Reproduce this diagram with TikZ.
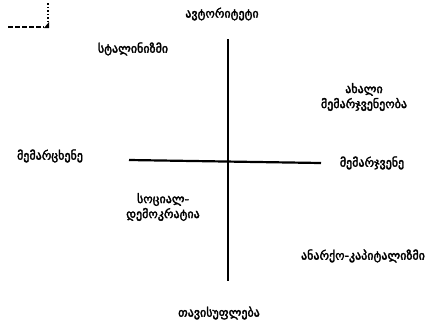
\documentclass[tikz,border=0pt]{standalone}
\usepackage{fontspec}
\setmainfont{DejaVu Sans}
\newfontfamily\geo[Script=Georgian,FakeBold=2.5]{DejaVu Sans}
\begin{document}
\begin{tikzpicture}[x=1pt,y=-1pt,
  lbl/.style={font=\geo\fontsize{12}{15}\selectfont, inner sep=0pt, align=center},
  axis/.style={line width=2.2pt}]
\useasboundingbox (0,0) rectangle (441,333);
% crop mark
\draw[line width=1.4pt, dash pattern=on 1.5pt off 2pt] (48,3) -- (48,22);
\draw[line width=1.6pt, dash pattern=on 5pt off 2pt] (8,27) -- (44,27);
\fill (44,28) -- (49,22) -- (49,28) -- cycle;
% axes
\coordinate (top) at (228,39);
\coordinate (bot) at (228,281);
\coordinate (left) at (129,160);
\coordinate (right) at (321,163);
\draw[axis] (top) -- (bot);
\draw[axis] (left) -- (right);
% labels
\node[lbl] (auth) at (222,14) {ავტორიტეტი};
\node[lbl] (stal) at (133,49) {სტალინიზმი};
\node[lbl] (newr) at (364,97) {ახალი\\მემარჯვენეობა};
\node[lbl] (lft) at (50,156) {მემარცხენე};
\node[lbl] (rgt) at (372,163) {მემარჯვენე};
\node[lbl] (socd) at (163,207) {სოციალ-\\დემოკრატია};
\node[lbl] (anc) at (363,256) {ანარქო-კაპიტალიზმი};
\node[lbl] (free) at (219,313) {თავისუფლება};
\end{tikzpicture}
\end{document}
